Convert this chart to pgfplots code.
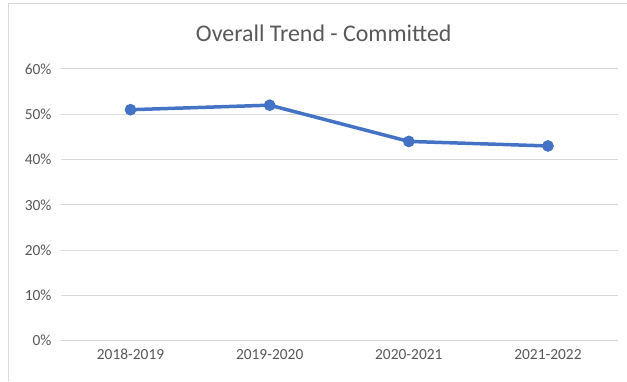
\documentclass[border=0pt]{standalone}
\usepackage{pgfplots}
\pgfplotsset{compat=1.18}
\usepackage{fontspec}
\setmainfont{Carlito}
\definecolor{txtc}{HTML}{595959}
\definecolor{gridc}{HTML}{D9D9D9}
\definecolor{linec}{HTML}{4472C4}
\begin{document}
\begin{tikzpicture}[x=1bp,y=1bp]
\fill[white] (0,0) rectangle (627,381);
\draw[gridc,line width=1bp] (9,0) -- (9,377) -- (627,377);
\node[txtc,font=\fontsize{24}{28}\selectfont] at (324,348) {Overall Trend - Committed};
\begin{axis}[
  at={(61bp,40bp)}, anchor=south west,
  scale only axis, width=557bp, height=272bp,
  xmin=-0.5, xmax=3.5, ymin=0, ymax=60,
  xtick={0,1,2,3},
  xticklabels={2018-2019,2019-2020,2020-2021,2021-2022},
  ytick={0,10,20,30,40,50,60},
  yticklabels={0\%,10\%,20\%,30\%,40\%,50\%,60\%},
  ymajorgrids=true, xmajorgrids=false,
  major grid style={draw=gridc,line width=1bp},
  axis line style={draw=none},
  axis x line*=bottom,
  x axis line style={draw=gridc,line width=1bp},
  major tick length=0pt,
  tick label style={txtc,font=\fontsize{15.5}{18}\selectfont},
  xticklabel style={yshift=-5bp},
  yticklabel style={xshift=-6bp},
  clip=false,
]
\addplot[linec, line width=3.5bp, mark=*, mark size=4bp, mark options={fill=linec,draw=linec}] coordinates {(0,51) (1,52) (2,44) (3,43)};
\end{axis}
\end{tikzpicture}
\end{document}
